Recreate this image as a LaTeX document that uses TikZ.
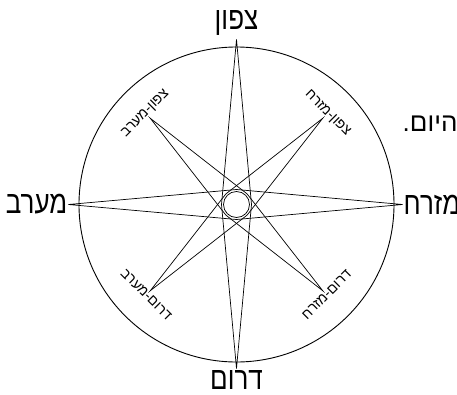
\documentclass[tikz,border=0pt]{standalone}
\usepackage{fontspec}
\usepackage{tikz}
\usetikzlibrary{positioning,calc}
\newfontfamily\hebfont[Script=Hebrew]{Liberation Sans}
\TeXXeTstate=1
\newcommand{\heb}[1]{\hebfont\beginR #1\endR}
\newcommand{\hebtall}[1]{\scalebox{1}[1.22]{\heb{#1}}}
\tikzset{
  dirlbl/.style={font=\hebfont\fontsize{26}{26}\selectfont, inner sep=1pt},
  sublbl/.style={font=\hebfont\fontsize{14}{14}\selectfont, inner sep=1pt},
  txtlbl/.style={font=\hebfont\fontsize{26}{26}\selectfont, inner sep=0pt},
  rim/.style={draw, line width=0.9pt},
  ray/.style={draw, line width=0.7pt, line join=miter},
}
\begin{document}
\begin{tikzpicture}[x=1pt,y=1pt]
  \useasboundingbox (-236.5,-189.5) rectangle (220.5,204.5);
  \coordinate (o) at (0,0);
  % tips of the rose
  \coordinate (n) at (90:165);
  \coordinate (e) at (0:166);
  \coordinate (s) at (270:164);
  \coordinate (w) at (180:168);
  \coordinate (ne) at (45:122);
  \coordinate (nw) at (135:122);
  \coordinate (sw) at (225:122);
  \coordinate (se) at (315:122);
  \foreach \a in {0,45,...,315}
    \coordinate (i\a) at (\a:15);
  \draw[rim] (o) circle (157.5);
  \draw[ray] (n) -- (i0) -- (s) -- (i180) -- cycle;
  \draw[ray] (e) -- (i90) -- (w) -- (i270) -- cycle;
  \draw[ray] (ne) -- (i135) -- (sw) -- (i315) -- cycle;
  \draw[ray] (nw) -- (i45) -- (se) -- (i225) -- cycle;
  \draw[ray] (o) circle (13);
  % labels
  \node[dirlbl, above=3pt of n] (nlbl) {\hebtall{צפון}};
  \node[dirlbl, below=1pt of s] (slbl) {\hebtall{דרום}};
  \node[dirlbl, left=0pt of w] (wlbl) {\hebtall{מערב}};
  \node[dirlbl, right=0pt of e] (elbl) {\hebtall{מזרח}};
  \node[sublbl, rotate=45, anchor=south] (nwlbl) at (nw) {\heb{צפון-מערב}};
  \node[sublbl, rotate=-45, anchor=south] (nelbl) at (ne) {\heb{צפון-מזרח}};
  \node[sublbl, rotate=-45, anchor=north] (swlbl) at (sw) {\heb{דרום-מערב}};
  \node[sublbl, rotate=45, anchor=north] (selbl) at (se) {\heb{דרום-מזרח}};
  \node[txtlbl, anchor=base west] (today) at (166,73.5) {\heb{היום.}};
\end{tikzpicture}
\end{document}
